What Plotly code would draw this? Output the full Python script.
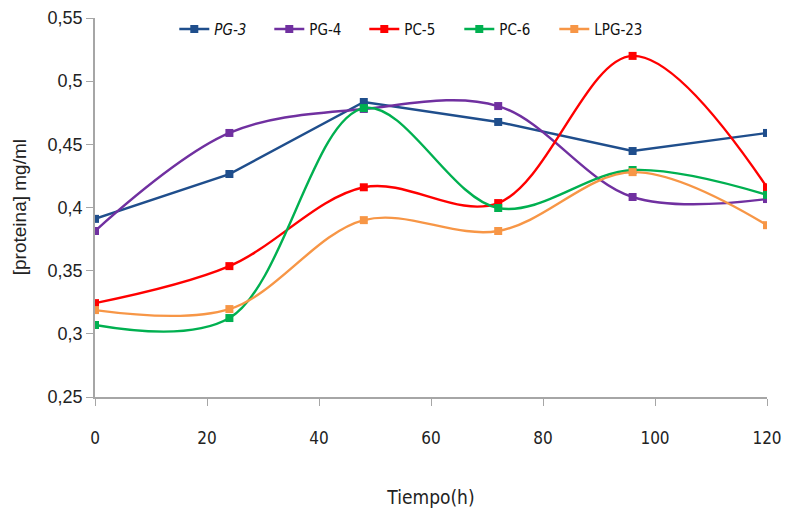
import plotly.graph_objects as go

tiempo = [0, 24, 48, 72, 96, 120]
pg3 = [0.391, 0.4265, 0.4835, 0.4677, 0.4447, 0.459]
pg4 = [0.3814, 0.459, 0.478, 0.4803, 0.4083, 0.4067]
pc5 = [0.3243, 0.3536, 0.416, 0.4035, 0.520, 0.416]
pc6 = [0.307, 0.3125, 0.4787, 0.3996, 0.4297, 0.410]
lpg23 = [0.3188, 0.3196, 0.390, 0.3814, 0.428, 0.386]

series_names = ["<i>PG-3</i>", "PG-4", "PC-5", "PC-6", "LPG-23"]
series_values = [pg3, pg4, pc5, pc6, lpg23]
series_colors = ["#1F4E8C", "#7030A0", "#FF0000", "#00B050", "#F79646"]
series_shapes = ["linear", "spline", "spline", "spline", "spline"]

y_tickvals = [0.25, 0.3, 0.35, 0.4, 0.45, 0.5, 0.55]
y_ticktext = ["0,25", "0,3", "0,35", "0,4", "0,45", "0,5", "0,55"]
x_tickvals = [0, 20, 40, 60, 80, 100, 120]

narrow = "DejaVu Sans Condensed, Liberation Sans Narrow, sans-serif"

fig = go.Figure()
for name, vals, col, shp in zip(series_names, series_values, series_colors, series_shapes):
    fig.add_trace(go.Scatter(
        x=tiempo, y=vals, name=name, mode="lines+markers",
        line=dict(color=col, width=2.4, shape=shp, smoothing=1.0),
        marker=dict(symbol="square", size=8, color=col),
    ))

fig.update_layout(
    width=785, height=510,
    margin=dict(l=95, r=18, t=18, b=113),
    plot_bgcolor="white", paper_bgcolor="white",
    font=dict(family="Liberation Sans", color="#222222"),
    showlegend=True,
    legend=dict(orientation="h", x=0.118, y=1.014, xanchor="left", yanchor="top",
                font=dict(family=narrow, size=15, color="#111111"),
                bgcolor="rgba(0,0,0,0)", entrywidth=50, entrywidthmode="pixels"),
    xaxis=dict(range=[0, 120], tickvals=x_tickvals, showgrid=False, zeroline=False,
               automargin=False,
               showline=True, linecolor="#A6A6A6", linewidth=1.5,
               ticks="outside", ticklen=7, tickcolor="#A6A6A6", ticklabelstandoff=18,
               tickfont=dict(family=narrow, size=17, color="#222222"),
               title=dict(text="Tiempo(h)", standoff=44,
                          font=dict(family=narrow, size=19, color="#222222"))),
    yaxis=dict(range=[0.25, 0.55], tickvals=y_tickvals, ticktext=y_ticktext,
               showgrid=False, zeroline=False, automargin=False,
               showline=True, linecolor="#A6A6A6", linewidth=1.5,
               ticks="outside", ticklen=7, tickcolor="#A6A6A6",
               tickfont=dict(family="Liberation Sans", size=18, color="#222222")),
    annotations=[dict(text="[proteina] mg/ml", textangle=-90, xref="paper", yref="paper",
                      x=-0.112, y=0.5, xanchor="center", yanchor="middle", showarrow=False,
                      font=dict(family="Liberation Sans", size=19, color="#222222"))],
)

fig.write_html("out.html")
